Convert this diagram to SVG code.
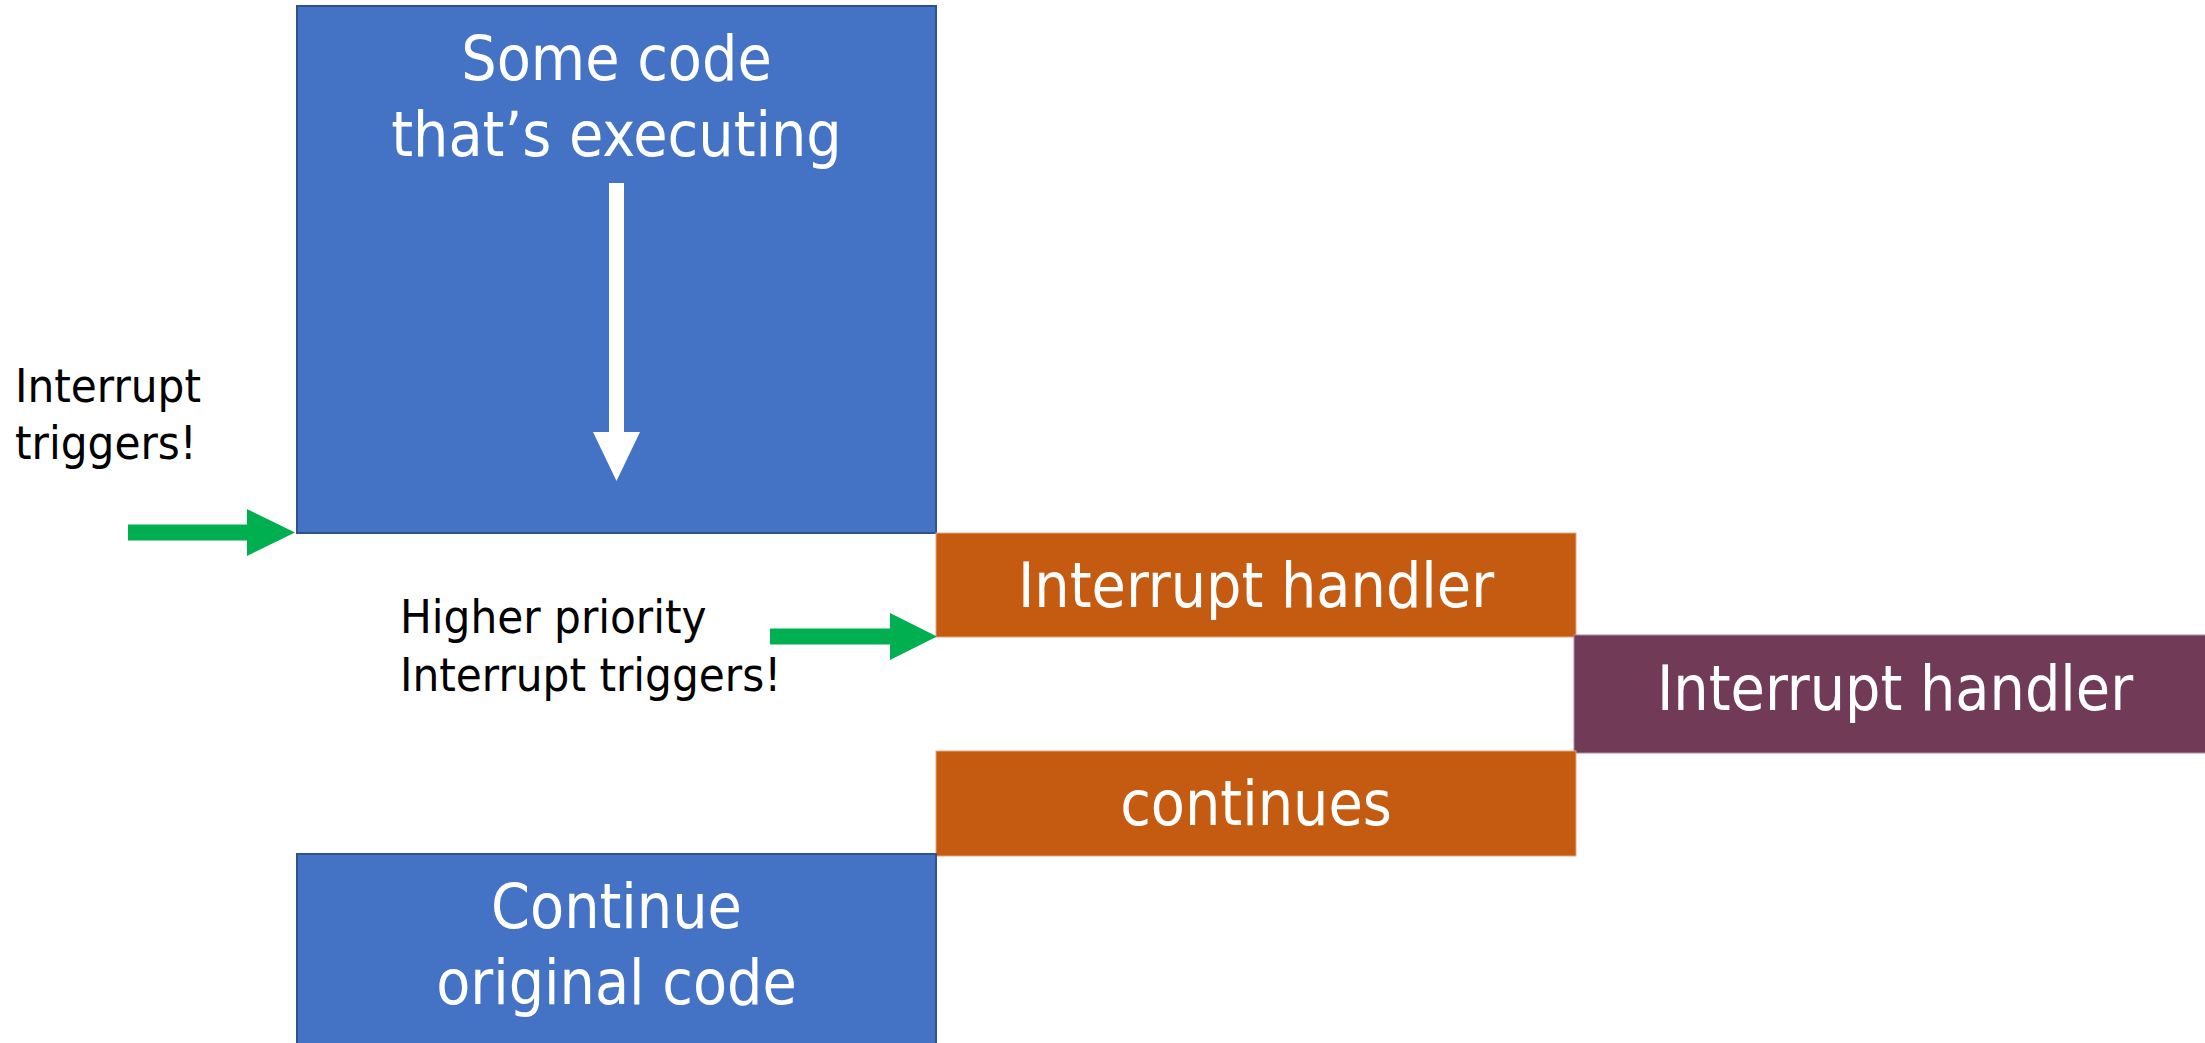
<svg xmlns="http://www.w3.org/2000/svg" width="2205" height="1043" viewBox="0 0 2205 1043">
  <defs>
    <style>
      .code { fill: #4472C4; stroke: #2F528F; stroke-width: 2; }
      .handler { fill: #C55A11; stroke: #E8A77A; stroke-width: 1; }
      .nested { fill: #713B57; stroke: #B08AA0; stroke-width: 1; }
      .big { font-family: "DejaVu Sans Condensed", "DejaVu Sans", sans-serif; font-stretch: condensed; font-size: 62px; fill: #FFFFFF; text-anchor: middle; }
      .note { font-family: "DejaVu Sans Condensed", "DejaVu Sans", sans-serif; font-stretch: condensed; font-size: 47px; fill: #000000; }
      .trigger { fill: #00B050; }
      .flow { fill: #FFFFFF; }
    </style>
  </defs>

  <rect width="2205" height="1043" fill="#FFFFFF"/>

  <!-- code running before the interrupt -->
  <g id="running-code">
    <rect class="code" x="297" y="6" width="639" height="527"/>
    <text class="big" x="616.5" y="80">Some code</text>
    <text class="big" x="616.5" y="156">that’s executing</text>
    <polygon class="flow" points="609,183 624,183 624,432 640,432 616.5,481 593,432 609,432"/>
  </g>

  <!-- first interrupt handler -->
  <g id="handler-1">
    <rect class="handler" x="936" y="533" width="640" height="104"/>
    <text class="big" x="1256" y="607">Interrupt handler</text>
  </g>

  <!-- higher priority interrupt handler -->
  <g id="handler-2">
    <rect class="nested" x="1574" y="635" width="660" height="118"/>
    <text class="big" x="1895" y="710">Interrupt handler</text>
  </g>

  <!-- first handler resumes -->
  <g id="handler-1-continues">
    <rect class="handler" x="936" y="751" width="640" height="105"/>
    <text class="big" x="1256" y="825">continues</text>
  </g>

  <!-- original code resumes -->
  <g id="resume-code">
    <rect class="code" x="297" y="854" width="639" height="200"/>
    <text class="big" x="616.5" y="928">Continue</text>
    <text class="big" x="616.5" y="1004">original code</text>
  </g>

  <!-- labels -->
  <g id="label-interrupt">
    <text class="note" x="15" y="402">Interrupt</text>
    <text class="note" x="15" y="459">triggers!</text>
  </g>
  <g id="label-higher">
    <text class="note" x="400" y="633">Higher priority</text>
    <text class="note" x="400" y="691">Interrupt triggers!</text>
  </g>

  <!-- trigger arrows -->
  <g id="connectors">
    <polygon class="trigger" points="128,524.5 247,524.5 247,509 295,532.5 247,556 247,540.5 128,540.5"/>
    <polygon class="trigger" points="770,628.5 890,628.5 890,613 937,636.5 890,660 890,644.5 770,644.5"/>
  </g>
</svg>
